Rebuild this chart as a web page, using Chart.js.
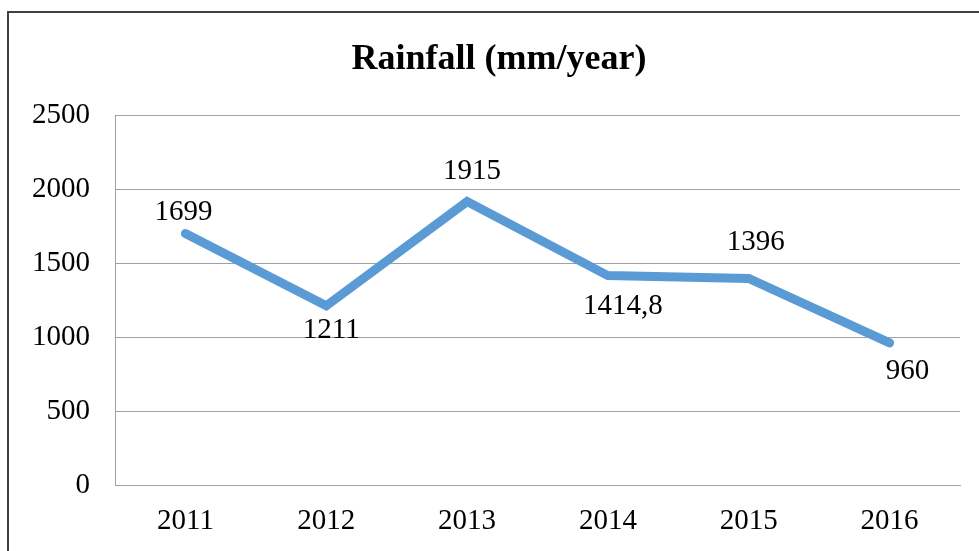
<!DOCTYPE html>
<html>
<head>
<meta charset="utf-8">
<script src="https://cdn.jsdelivr.net/npm/chart.js@4.4.0/dist/chart.umd.min.js"></script>
<style>
  html, body { margin: 0; padding: 0; background: #fff; }
  #wrap { width: 979px; height: 551px; position: relative; }
</style>
</head>
<body>
<div id="wrap"><canvas id="chart1"></canvas></div>
<script>
// data
var years = ['2011', '2012', '2013', '2014', '2015', '2016'];
var rainfall = [1699, 1211, 1915, 1414.8, 1396, 960];
var yTicks = [0, 500, 1000, 1500, 2000, 2500];
var titleText = 'Rainfall (mm/year)';

var serif = "'Liberation Serif', 'Times New Roman', serif";

// outer frame (left + top edge of the chart box) and the title
var framePlugin = {
    id: 'frame',
    beforeDraw: function(chart) {
        var c = chart.ctx;
        c.save();
        c.strokeStyle = '#404040';
        c.lineWidth = 2;
        c.beginPath();
        c.moveTo(8, chart.height);
        c.lineTo(8, 12);
        c.lineTo(chart.width, 12);
        c.stroke();

        // title sits a bit right of the canvas centre, like the original
        c.font = 'bold 36px ' + serif;
        c.fillStyle = '#000';
        c.textAlign = 'center';
        c.textBaseline = 'middle';
        c.fillText(titleText, 499, 60);
        c.restore();
    }
};

// value labels next to each point
var labelPlugin = {
    id: 'pointLabels',
    afterDatasetsDraw: function(chart, args, opts) {
        var c = chart.ctx;
        var meta = chart.getDatasetMeta(0);
        var vals = chart.data.datasets[0].data;
        c.save();
        c.font = opts.font;
        c.fillStyle = '#000';
        c.textAlign = 'center';
        c.textBaseline = 'middle';
        meta.data.forEach(function(pt, i) {
            var off = opts.offsets[i];
            var txt = String(vals[i]).replace('.', ',');
            c.fillText(txt, pt.x + off[0], pt.y + off[1]);
        });
        c.restore();
    }
};

var ctx = document.getElementById('chart1').getContext('2d');
var myChart = new Chart(ctx, {
    type: 'line',
    data: {
        labels: years,
        datasets: [{
            label: 'Rainfall',
            data: rainfall,
            borderColor: '#5b9bd5',
            backgroundColor: '#5b9bd5',
            borderWidth: 9,
            borderCapStyle: 'round',
            borderJoinStyle: 'miter',
            pointRadius: 0,
            tension: 0,
            fill: false
        }]
    },
    options: {
        responsive: true,
        maintainAspectRatio: false,
        animation: false,
        layout: {
            padding: { left: 0, right: 19, top: 115, bottom: 0 }
        },
        plugins: {
            legend: { display: false },
            tooltip: { enabled: false },
            title: { display: false },
            pointLabels: {
                font: '29px ' + serif,
                offsets: [[-2, -21], [5, 25], [5, -30], [15, 31], [7, -36], [18, 28]]
            }
        },
        scales: {
            x: {
                offset: true,
                afterFit: function(scale) { scale.height = 66; },
                grid: { display: false, drawTicks: false },
                border: { display: true, color: '#a0a0a0', width: 1 },
                ticks: {
                    color: '#000',
                    padding: 19,
                    font: { family: serif, size: 29 }
                }
            },
            y: {
                min: 0,
                max: 2500,
                afterFit: function(scale) { scale.width = 115; },
                afterBuildTicks: function(scale) {
                    scale.ticks = yTicks.map(function(v) { return { value: v }; });
                },
                grid: { color: '#a0a0a0', lineWidth: 1, drawTicks: false },
                border: { display: true, color: '#a0a0a0', width: 1 },
                ticks: {
                    color: '#000',
                    padding: 25,
                    font: { family: serif, size: 29 },
                    callback: function(v) { return String(v); }
                }
            }
        }
    },
    plugins: [framePlugin, labelPlugin]
});
</script>
</body>
</html>
